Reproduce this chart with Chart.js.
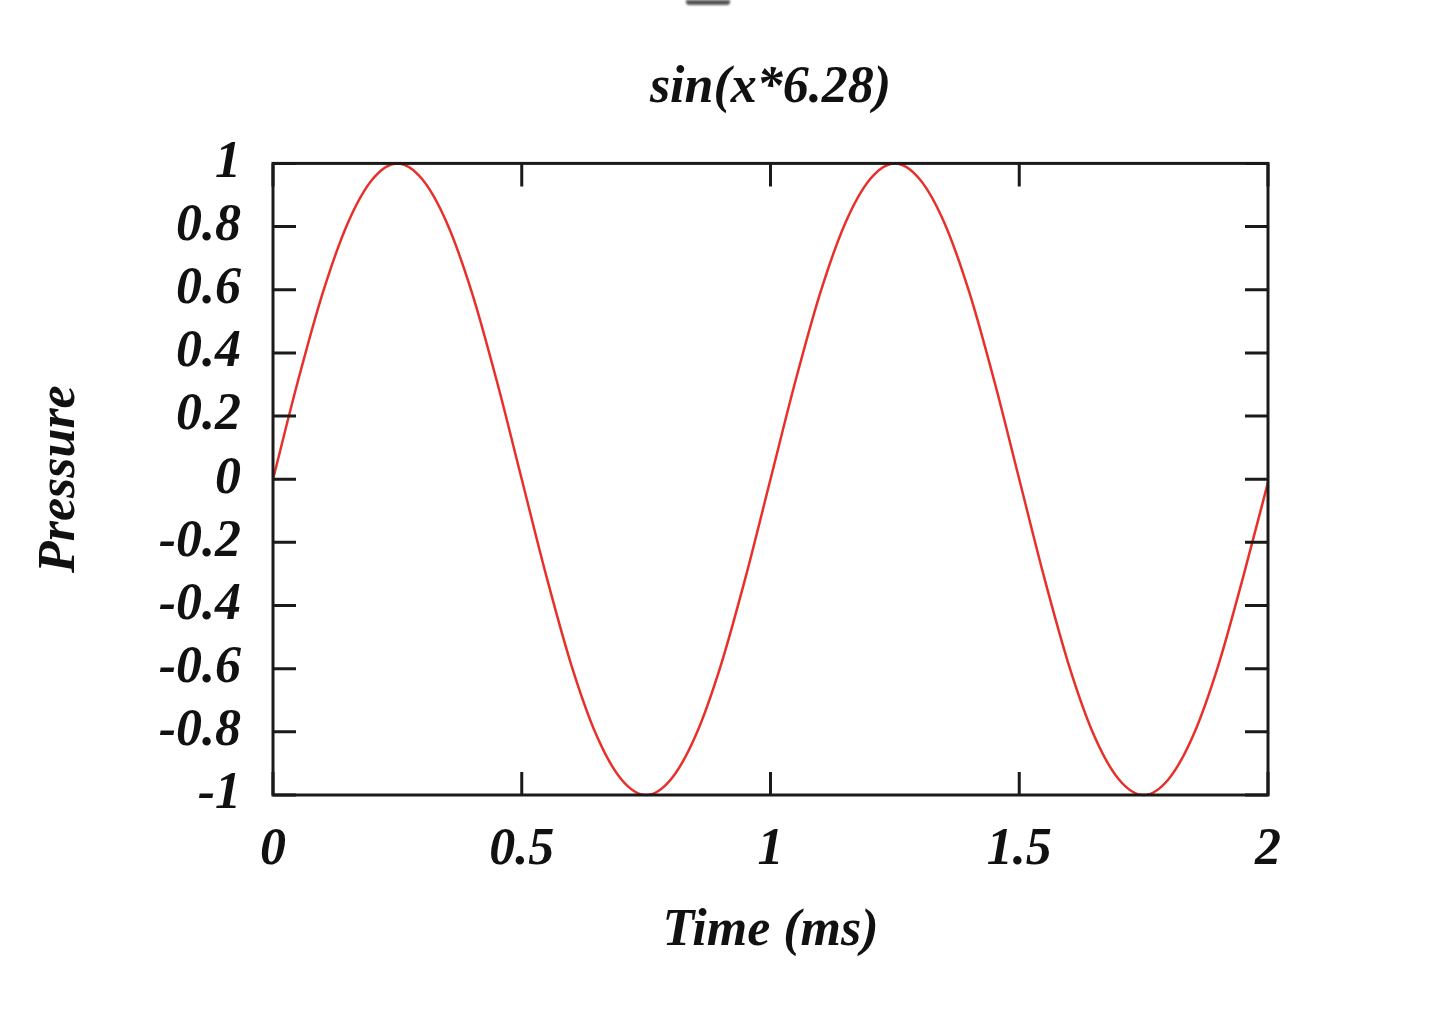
<!DOCTYPE html>
<html>
<head>
<meta charset="utf-8">
<script src="https://cdn.jsdelivr.net/npm/chart.js@4/dist/chart.umd.min.js"></script>
<style>
  html, body { margin: 0; padding: 0; background: #fff; }
  #wrap { position: relative; width: 1440px; height: 1012px; }
  #smudge { position: absolute; left: 686px; top: 0; width: 44px; height: 5px; background: #555; border-radius: 0 0 3px 3px; filter: blur(1px); }
</style>
</head>
<body>
<div id="wrap">
  <canvas id="c" width="1440" height="1012"></canvas>
  <div id="smudge"></div>
</div>
<script>
// time (ms) samples and the pressure
const timeMs = [0, 0.05, 0.1, 0.15, 0.2, 0.25, 0.3, 0.35, 0.4, 0.45, 0.5,
  0.55, 0.6, 0.65, 0.7, 0.75, 0.8, 0.85, 0.9, 0.95, 1,
  1.05, 1.1, 1.15, 1.2, 1.25, 1.3, 1.35, 1.4, 1.45, 1.5,
  1.55, 1.6, 1.65, 1.7, 1.75, 1.8, 1.85, 1.9, 1.95, 2];
const pressure = [0, 0.31, 0.59, 0.81, 0.95, 1, 0.95, 0.81, 0.59, 0.31, 0,
  -0.31, -0.59, -0.81, -0.95, -1, -0.95, -0.81, -0.59, -0.31, 0,
  0.31, 0.59, 0.81, 0.95, 1, 0.95, 0.81, 0.59, 0.31, 0,
  -0.31, -0.59, -0.81, -0.95, -1, -0.95, -0.81, -0.59, -0.31, -0.01];

const xTicks = [0, 0.5, 1, 1.5, 2];
const xTickLabels = ['0', '0.5', '1', '1.5', '2'];
const yTicks = [-1, -0.8, -0.6, -0.4, -0.2, 0, 0.2, 0.4, 0.6, 0.8, 1];
const yTickLabels = ['-1', '-0.8', '-0.6', '-0.4', '-0.2', '0', '0.2', '0.4', '0.6', '0.8', '1'];

const serif = { family: '"Liberation Serif", "DejaVu Serif", serif', size: 52, weight: 'bold', style: 'italic', lineHeight: 1.2 };

// gnuplot style: box round the plot, ticks pointing inward on all four sides
const frame = {
  id: 'frame',
  afterDatasetsDraw(chart) {
    const { ctx, chartArea: a, scales: { x, y } } = chart;
    const len = 23;
    ctx.save();
    ctx.strokeStyle = '#1a1a1a';
    ctx.lineWidth = 3;
    ctx.beginPath();
    xTicks.forEach(v => {
      const px = x.getPixelForValue(v);
      ctx.moveTo(px, a.bottom); ctx.lineTo(px, a.bottom - len);
      ctx.moveTo(px, a.top); ctx.lineTo(px, a.top + len);
    });
    yTicks.forEach(v => {
      const py = y.getPixelForValue(v);
      ctx.moveTo(a.left, py); ctx.lineTo(a.left + len, py);
      ctx.moveTo(a.right, py); ctx.lineTo(a.right - len, py);
    });
    ctx.stroke();
    ctx.strokeRect(a.left, a.top, a.right - a.left, a.bottom - a.top);
    ctx.restore();
  }
};

new Chart(document.getElementById('c'), {
  type: 'line',
  data: {
    datasets: [{
      data: timeMs.map((t, i) => ({ x: t, y: pressure[i] })),
      borderColor: '#e8302a',
      borderWidth: 2.5,
      pointRadius: 0,
      cubicInterpolationMode: 'monotone',
      clip: false
    }]
  },
  options: {
    responsive: false,
    animation: false,
    layout: { padding: { left: 0, right: 172, top: 0, bottom: 0 } },
    plugins: {
      legend: { display: false },
      tooltip: { enabled: false },
      title: {
        display: true,
        fullSize: false,
        text: 'sin(x*6.28)',
        color: '#111',
        font: serif,
        padding: { top: 57, bottom: 44 }
      }
    },
    scales: {
      x: {
        type: 'linear',
        min: 0, max: 2,
        afterBuildTicks: s => { s.ticks = xTicks.map(v => ({ value: v })); },
        afterFit: s => { s.height = 217; },
        ticks: {
          color: '#111', font: serif, padding: 24, maxRotation: 0, autoSkip: false,
          callback: (v, i) => xTickLabels[i]
        },
        grid: { display: false, drawTicks: false },
        border: { display: false },
        title: {
          display: true, text: 'Time (ms)', color: '#111', font: serif,
          padding: { top: 4, bottom: 49 }
        }
      },
      y: {
        type: 'linear',
        min: -1, max: 1,
        afterBuildTicks: s => { s.ticks = yTicks.map(v => ({ value: v })); },
        afterFit: s => { s.width = 273; },
        ticks: {
          color: '#111', font: serif, padding: 32, autoSkip: false,
          callback: (v, i) => yTickLabels[i]
        },
        grid: { display: false, drawTicks: false },
        border: { display: false },
        title: {
          display: true, text: 'Pressure', color: '#111', font: serif,
          padding: { top: 29, bottom: 4 }
        }
      }
    }
  },
  plugins: [frame]
});
</script>
</body>
</html>
